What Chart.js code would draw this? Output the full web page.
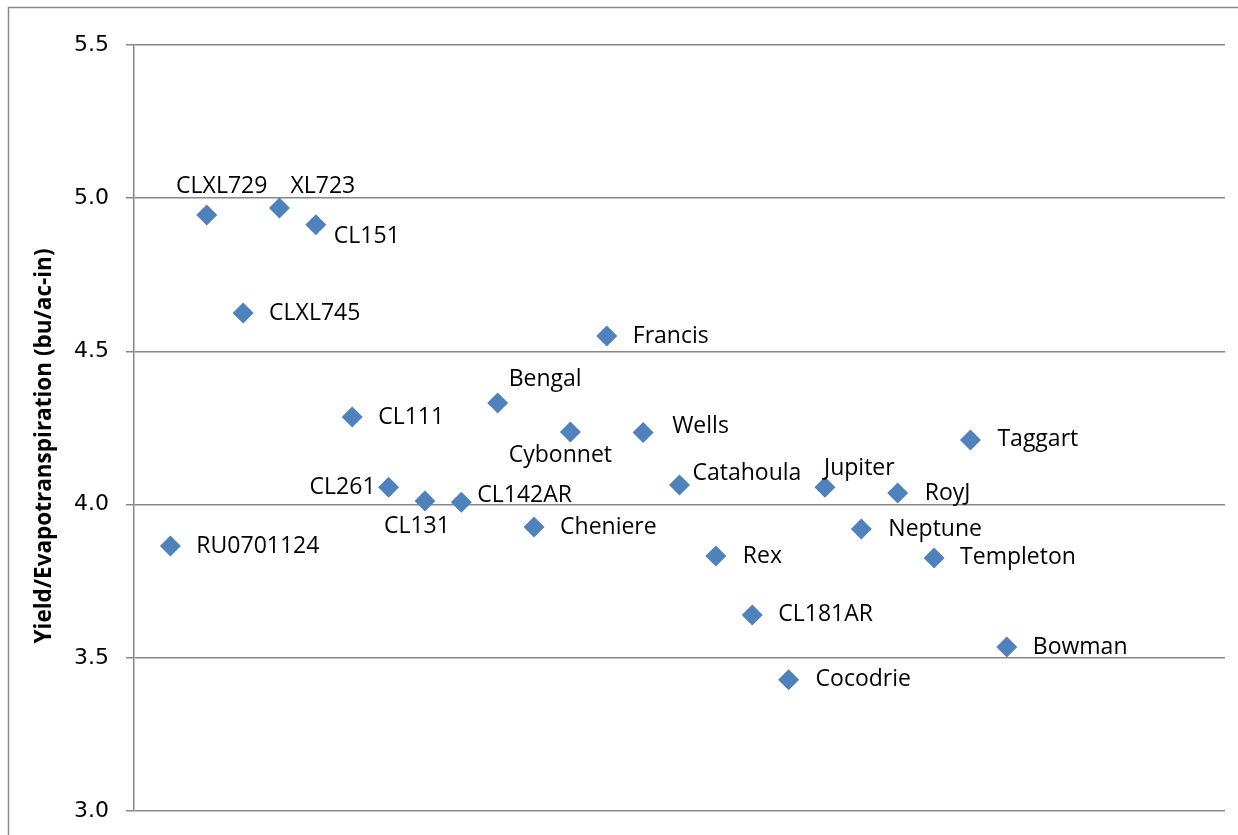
<!DOCTYPE html>
<html>
<head>
<meta charset="utf-8">
<script src="https://cdn.jsdelivr.net/npm/chart.js@4/dist/chart.umd.min.js"></script>
<style>
  html, body { margin: 0; padding: 0; background: #fff; overflow: hidden; width: 1238px; height: 835px; }
  #wrap { width: 1238px; height: 835px; position: relative; overflow: hidden; }
  canvas { display: block; }
</style>
</head>
<body>
<div id="wrap"><canvas id="c" width="1238" height="835"></canvas></div>
<script>
// ---- data ----
const varieties = ["RU0701124","CLXL729","CLXL745","XL723","CL151","CL111","CL261","CL131","CL142AR","Bengal","Cheniere","Cybonnet","Francis","Wells","Catahoula","Rex","CL181AR","Cocodrie","Jupiter","Neptune","RoyJ","Templeton","Taggart","Bowman"];
const yieldPerET = [3.865,4.945,4.625,4.968,4.913,4.286,4.057,4.012,4.008,4.332,3.927,4.237,4.55,4.235,4.064,3.832,3.64,3.428,4.057,3.92,4.038,3.826,4.211,3.535];
const yTickValues = [3.0,3.5,4.0,4.5,5.0,5.5];
const yTitle = "Yield/Evapotranspiration (bu/ac-in)";

// label placement (offset of label from its point, and text alignment)
const labelPlacement = [
  [26,0,"left"],[15,-29,"center"],[26,0,"left"],[11,-22,"left"],[18,12,"left"],
  [26,0,"left"],[-13,0,"right"],[-8,26,"center"],[16,-7,"left"],[11,-23,"left"],
  [26,0,"left"],[-10,23,"center"],[26,0,"left"],[29,-6,"left"],[13,-12,"left"],
  [27,0,"left"],[26,0,"left"],[27,0,"left"],[-1,-19,"left"],[27,0,"left"],
  [27,0,"left"],[26,0,"left"],[27,0,"left"],[26,0,"left"]
];

const points = varieties.map((v, i) => ({ x: i + 1, y: yieldPerET[i] }));

const AREA = { left: 134, top: 45, right: 1225, bottom: 811 };

const areaPlugin = {
  id: 'fixArea',
  afterLayout(chart) {
    const ca = chart.chartArea;
    ca.left = AREA.left; ca.right = AREA.right; ca.top = AREA.top; ca.bottom = AREA.bottom;
    ca.width = AREA.right - AREA.left; ca.height = AREA.bottom - AREA.top;
    const y = chart.scales.y;
    y.top = AREA.top; y.bottom = AREA.bottom; y.height = AREA.bottom - AREA.top;
    y.right = AREA.left; y.left = 0; y.width = AREA.left;
    y.configure();
    const x = chart.scales.x;
    x.left = AREA.left; x.right = AREA.right; x.width = AREA.right - AREA.left;
    x.top = AREA.bottom; x.bottom = AREA.bottom;
    x.configure();
  }
};

const framePlugin = {
  id: 'frame',
  beforeDraw(chart) {
    const ctx = chart.ctx;
    ctx.save();
    ctx.strokeStyle = '#8a8a8a';
    ctx.lineWidth = 1.5;
    ctx.beginPath();
    ctx.moveTo(8.5, 835);
    ctx.lineTo(8.5, 7.5);
    ctx.lineTo(1238, 7.5);
    ctx.stroke();
    ctx.restore();
  }
};

const labelPlugin = {
  id: 'pointLabels',
  afterDatasetsDraw(chart) {
    const ctx = chart.ctx;
    const meta = chart.getDatasetMeta(0);
    ctx.save();
    ctx.font = '23px "Open Sans"';
    ctx.fillStyle = '#000';
    ctx.textBaseline = 'middle';
    meta.data.forEach((el, i) => {
      const p = labelPlacement[i];
      ctx.textAlign = p[2];
      ctx.fillText(varieties[i], el.x + p[0], el.y + p[1]);
    });
    ctx.restore();
  },
  afterDraw(chart) {
    const ctx = chart.ctx;
    ctx.save();
    ctx.translate(45, 446);
    ctx.rotate(-Math.PI / 2);
    ctx.font = 'bold 22.5px "Open Sans"';
    ctx.fillStyle = '#000';
    ctx.textAlign = 'center';
    ctx.textBaseline = 'middle';
    ctx.fillText(yTitle, 0, 0);
    ctx.restore();
  }
};

new Chart(document.getElementById('c'), {
  type: 'scatter',
  data: {
    datasets: [{
      data: points,
      pointStyle: 'rectRot',
      pointRadius: 10.5,
      pointHoverRadius: 10.5,
      backgroundColor: '#4F81BD',
      borderColor: '#4F81BD',
      borderWidth: 0
    }]
  },
  options: {
    responsive: false,
    animation: false,
    events: [],
    layout: { padding: { left: 0, top: 45, right: 13, bottom: 24 } },
    plugins: { legend: { display: false }, tooltip: { enabled: false } },
    scales: {
      x: { type: 'linear', min: 0, max: 30, display: false },
      y: {
        min: 3.0, max: 5.5,
        afterFit(scale) { scale.width = 134; },
        afterBuildTicks(scale) { scale.ticks = yTickValues.map(v => ({ value: v })); },
        ticks: {
          callback: v => v.toFixed(1),
          color: '#000',
          font: { family: 'DejaVu Sans', size: 22 },
          padding: 17
        },
        grid: { color: '#878787', lineWidth: 1.5, tickLength: 8, drawTicks: true },
        border: { display: true, color: '#878787', width: 1.5 }
      }
    }
  },
  plugins: [areaPlugin, framePlugin, labelPlugin]
});
</script>
</body>
</html>
